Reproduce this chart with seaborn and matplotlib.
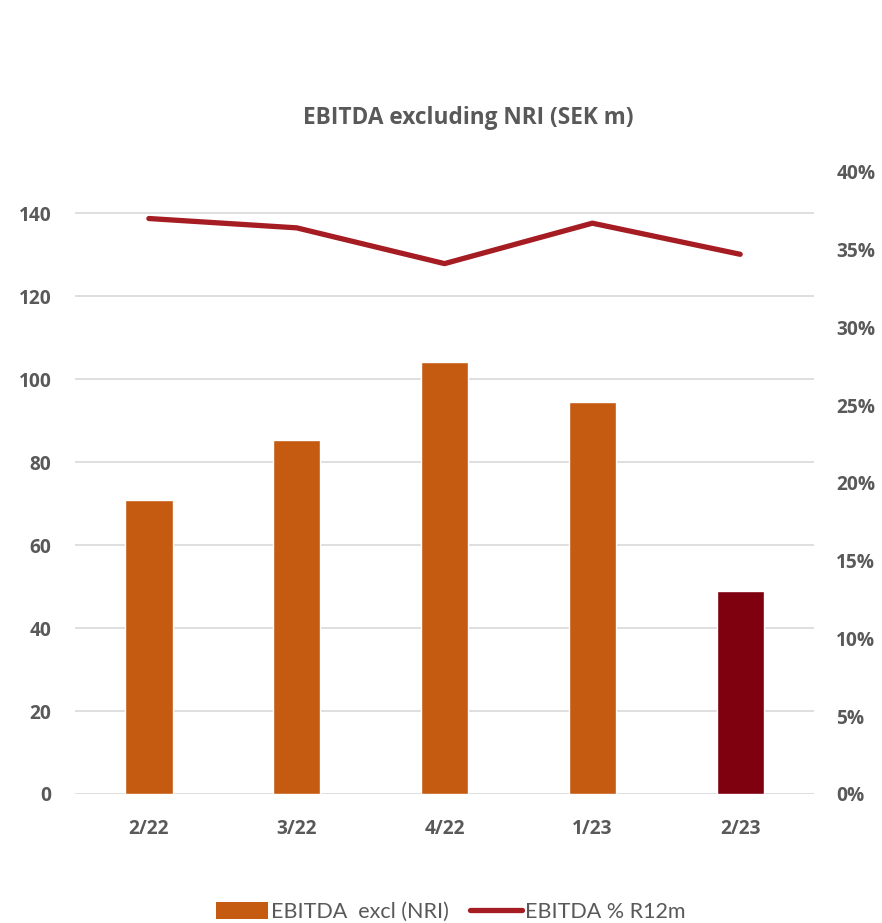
import numpy as np
import pandas as pd
import matplotlib
matplotlib.use("Agg")
import matplotlib.pyplot as plt
from matplotlib.patches import Patch
from matplotlib.lines import Line2D
import seaborn as sns

# Quarterly EBITDA (excl. non-recurring items) and rolling 12-month margin
quarters = ["2/22", "3/22", "4/22", "1/23", "2/23"]
ebitda = [70.8, 85.3, 104.1, 94.5, 48.9]
margin_r12 = [37.0, 36.4, 34.1, 36.7, 34.7]
left_ticks = [0, 20, 40, 60, 80, 100, 120, 140]
right_ticks = [0, 5, 10, 15, 20, 25, 30, 35, 40]

bar_colors = ["#C55A11", "#C55A11", "#C55A11", "#C55A11", "#7F000E"]
line_color = "#A61C23"
text_color = "#595959"
grid_color = "#D9D9D9"

sns.set_theme(style="white")
plt.rcParams["font.family"] = ["Open Sans", "DejaVu Sans"]
plt.rcParams["font.weight"] = "bold"

df = pd.DataFrame({"quarter": quarters, "ebitda": ebitda,
                   "margin": margin_r12, "pos": np.arange(len(quarters))})

fig = plt.figure(figsize=(8.82, 9.23), dpi=100)
ax = fig.add_axes([0.085, 0.1398, 0.838, 0.674])

sns.barplot(data=df, x="quarter", y="ebitda", hue="quarter",
            palette=bar_colors, width=0.32, legend=False,
            saturation=1, ax=ax, zorder=2)
ax.set_xlim(-0.5, len(quarters) - 0.5)
ax.set_ylim(0, 150)
ax.set_yticks(left_ticks)
for t in left_ticks:
    ax.axhline(t, color=grid_color, lw=1.2, zorder=0)
ax.set_xlabel("")
ax.set_ylabel("")
for s in ax.spines.values():
    s.set_visible(False)
ax.tick_params(axis="both", length=0, colors=text_color, labelsize=13.8)
ax.tick_params(axis="x", pad=18)
ax.tick_params(axis="y", pad=17)

ax2 = ax.twinx()
sns.lineplot(data=df, x="pos", y="margin", color=line_color, lw=3.8,
             solid_capstyle="round", ax=ax2, zorder=3)
ax2.set_ylim(0, 40)
ax2.set_yticks(right_ticks)
ax2.set_yticklabels([f"{t}%" for t in right_ticks])
ax2.set_ylabel("")
ax2.set_xlabel("")
for s in ax2.spines.values():
    s.set_visible(False)
ax2.tick_params(axis="y", length=0, colors=text_color, labelsize=13.8, pad=16)
ax2.grid(False)

fig.text(0.531, 0.872, "EBITDA excluding NRI (SEK m)", ha="center", va="center",
         fontsize=16.3, fontweight="bold", color=text_color)

handles = [Patch(facecolor=bar_colors[0], edgecolor="none"),
           Line2D([0], [0], color=line_color, lw=3.8, solid_capstyle="round")]
fig.legend(handles, ["EBITDA  excl (NRI)", "EBITDA % R12m"], loc="center",
           bbox_to_anchor=(0.511, 0.012), ncol=2, frameon=False,
           prop={"family": "Lato", "size": 15.5, "weight": "normal"},
           labelcolor=text_color, handlelength=2.4, handleheight=0.8,
           handletextpad=0.15, columnspacing=1.0)

fig.savefig("out.png", dpi=100)
